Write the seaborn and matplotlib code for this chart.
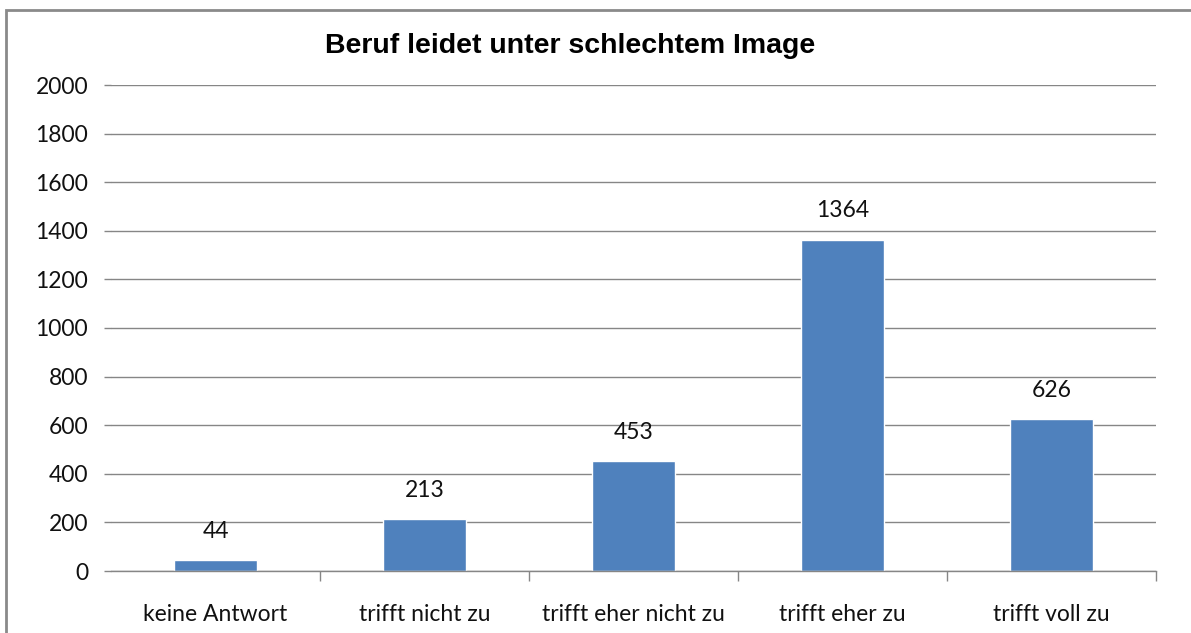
import matplotlib
matplotlib.use("Agg")
import matplotlib.pyplot as plt
import seaborn as sns
import pandas as pd
from matplotlib.patches import Rectangle

# Antwortkategorien und Anzahl Nennungen
categories = ["keine Antwort", "trifft nicht zu", "trifft eher nicht zu", "trifft eher zu", "trifft voll zu"]
counts = [44, 213, 453, 1364, 626]
y_ticks = [0, 200, 400, 600, 800, 1000, 1200, 1400, 1600, 1800, 2000]
title = "Beruf leidet unter schlechtem Image"

bar_color = "#4F81BD"
grid_color = "#868686"

sns.set_style("white")
plt.rcParams['font.family'] = ['Lato', 'DejaVu Sans']

W, H = 1191, 633
fig = plt.figure(figsize=(W / 100, H / 100), dpi=100)
ax = fig.add_axes([111 / W, (H - 571) / H, (1156 - 111) / W, (571 - 85) / H])

df = pd.DataFrame({"Antwort": categories, "Anzahl": counts})
sns.barplot(data=df, x="Antwort", y="Anzahl", color=bar_color, saturation=1,
            width=0.4, ax=ax)

ax.set_xlim(-0.5, len(categories) - 0.5)
ax.set_ylim(0, 2000)
ax.set_yticks(y_ticks)
ax.set_xlabel("")
ax.set_ylabel("")

# horizontale Hilfslinien
ax.set_axisbelow(True)
ax.yaxis.grid(True, color=grid_color, linewidth=1)

for side in ["top", "right", "left"]:
    ax.spines[side].set_visible(False)
ax.spines["bottom"].set_color(grid_color)
ax.spines["bottom"].set_linewidth(1)

ax.tick_params(axis="y", left=True, length=5, width=1, color=grid_color, pad=11.5,
               labelsize=16.5, labelcolor="#111111")
ax.tick_params(axis="x", which="major", length=0, pad=24,
               labelsize=16.5, labelcolor="#111111")
ax.set_xticks([i + 0.5 for i in range(len(categories))], minor=True)
ax.tick_params(axis="x", which="minor", bottom=True, length=7, width=1, color=grid_color)

# Werte über den Balken
for c in ax.containers:
    ax.bar_label(c, labels=[str(v) for v in counts], padding=13,
                 fontsize=16.5, color="#111111")

fig.text(570 / W, 1 - 46 / H, title, ha="center", va="center", color="black",
         fontsize=20.5, fontweight="bold", family=["Liberation Sans", "DejaVu Sans"])

# Rahmen des Diagrammbereichs
fig.patches.append(Rectangle((6 / W, -0.1), 1.2, 1 - 10 / H + 0.1,
                             transform=fig.transFigure, fill=False,
                             edgecolor="#8a8a8a", linewidth=2))

fig.savefig("out.png", dpi=100)
